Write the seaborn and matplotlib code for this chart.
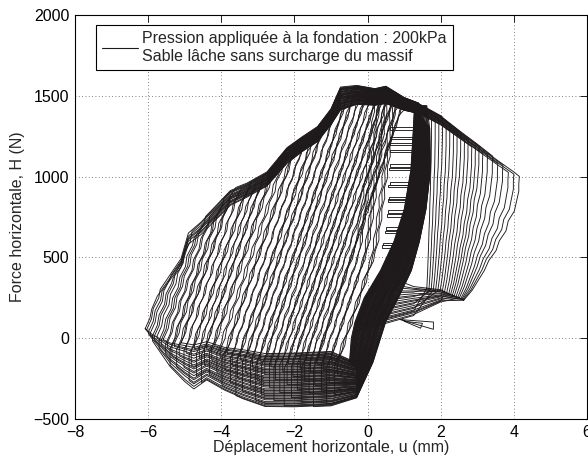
import numpy as np
import pandas as pd
import matplotlib
matplotlib.use("Agg")
import matplotlib.pyplot as plt
from matplotlib.lines import Line2D
import seaborn as sns

# ---------------- values (u in mm, H in N) ----------------
# upper envelope of the loops: outer edge and inner edge of the dark bundle
env_u = [-6.12, -5.75, -5.1, -4.9, -4.55, -3.75, -3.3, -2.75, -2.2, -1.8, -1.37, -1.0,
         -0.74, -0.3, 0.2, 0.5, 1.0, 1.4, 2.0, 2.5, 3.0, 3.5, 4.0, 4.18]
env_top = [75, 280, 500, 660, 730, 920, 960, 1030, 1180, 1245, 1310, 1420,
           1555, 1565, 1545, 1560, 1490, 1455, 1380, 1290, 1205, 1115, 1035, 1000]
env_bot = [55, 240, 440, 580, 640, 820, 870, 940, 1080, 1150, 1215, 1320,
           1410, 1445, 1440, 1450, 1410, 1390, 1320, 1240, 1160, 1080, 1000, 975]

# lower band (right to left): upper and lower edge
low_u = [-0.3, -1.0, -2.0, -2.8, -3.4, -3.9, -4.4, -4.75, -5.0, -5.4, -5.9, -6.12]
low_top = [-150, -80, -90, -93, -70, -56, -20, -40, -30, -20, 30, 68]
low_bot = [-370, -420, -430, -428, -380, -330, -265, -322, -275, -180, -12, 68]

# dense unloading band near u = 0..1.7 (top to bottom): left and right edge
band_h = [1440, 1300, 1040, 800, 600, 420, 250, 100, 0, -150]
band_l = [1.28, 1.25, 1.18, 1.0, 0.72, 0.35, -0.1, -0.35, -0.45, -0.5]
band_r = [1.62, 1.7, 1.72, 1.6, 1.42, 1.2, 0.85, 0.5, 0.36, 0.15]

# start of each loading branch on the left part of the loops
left_u0 = [-6.08, -6.04, -5.99, -5.94, -5.88, -5.83, -5.76, -5.7, -5.64, -5.58, -5.52,
           -5.47, -5.4, -5.35, -5.28, -5.22, -5.15, -5.1, -5.02, -4.96, -4.88, -4.82,
           -4.74, -4.68, -4.6, -4.54, -4.46, -4.4, -4.32, -4.26, -4.18, -4.12, -4.03,
           -3.98, -3.9, -3.84, -3.75, -3.7, -3.6, -3.56, -3.47, -3.42, -3.33, -3.28,
           -3.2, -3.15, -3.06, -3.02, -2.94, -2.9, -2.81, -2.77, -2.68, -2.64, -2.56,
           -2.52, -2.44, -2.4, -2.32, -2.28, -2.2, -2.16, -2.08, -2.04, -1.96, -1.92,
           -1.84, -1.8, -1.72, -1.68, -1.6, -1.56, -1.48, -1.44, -1.38]
# last branches, close to the dense band (steeper in their upper part)
late_u0 = [-1.32, -1.26, -1.2, -1.12, -1.05, -0.98, -0.9, -0.82, -0.75]

# wavy shape of a loading branch (offsets from its start)
branch_dh = [0, 65, 130, 195, 260, 325, 390, 455, 520, 585, 650, 715, 780, 845, 910, 975,
             1040, 1105, 1170, 1235, 1300, 1365, 1430, 1495, 1560, 1625, 1690, 1755,
             1820, 1885, 1950]
branch_du = [0, .13, .18, .33, .37, .52, .57, .72, .76, .91, .96, 1.11, 1.15, 1.30, 1.35,
             1.50, 1.54, 1.69, 1.74, 1.89, 1.93, 2.08, 2.13, 2.27, 2.32, 2.47, 2.52,
             2.66, 2.71, 2.86, 2.90]
late_du = [0, .13, .18, .33, .37, .52, .57, .72, .76, .91, .96, 1.06, 1.06, 1.14, 1.14,
           1.22, 1.21, 1.30, 1.29, 1.37, 1.36, 1.44, 1.43, 1.51, 1.50, 1.58, 1.57,
           1.65, 1.64, 1.72, 1.71]

# loading branches on the right part of the loops
right_u0 = [1.62, 1.68, 1.74, 1.8, 1.86, 1.92, 1.98, 2.04, 2.1, 2.16, 2.22, 2.27,
            2.32, 2.37, 2.42, 2.47, 2.51, 2.55, 2.58, 2.6, 2.62, 2.63]
right_h0 = [310, 307, 304, 300, 297, 293, 290, 286, 282, 278, 274, 270,
            266, 262, 258, 254, 250, 246, 243, 240, 237, 235]
right_u1 = [1.75, 1.85, 1.95, 2.05, 2.15, 2.25, 2.35, 2.45, 2.55, 2.65, 2.75, 2.85,
            2.95, 3.05, 3.15, 3.28, 3.42, 3.56, 3.7, 3.85, 4.0, 4.15]
right_fh = [0, .08, .16, .24, .32, .40, .48, .56, .64, .72, .80, .88, .94, 1.0]
right_fu = [0, .15, .26, .37, .45, .58, .64, .76, .80, .91, .95, .99, .99, 1.0]
fan_u = [1.26, 2.0]
fan_lo = [130, 217]
fan_hi = [320, 300]
fan_exit = [20, 340]

# horizontal "rungs" left of the dense band
rung_h = [1290, 1230, 1195, 1150, 1060, 1040, 950, 935, 855, 843, 775, 750, 670, 650, 575, 560]
rung_u0 = [0.62, 0.6, 0.62, 0.6, 0.6, 0.58, 0.6, 0.57, 0.58, 0.55, 0.55, 0.52, 0.5, 0.48, 0.42, 0.4]
rung_u1 = [1.26, 1.25, 1.24, 1.23, 1.2, 1.19, 1.14, 1.13, 1.05, 1.04, 0.98, 0.96, 0.88, 0.86, 0.78, 0.76]

# two small wedges at the bottom right of the band
wedge_u = [[0.9, 1.8, 1.8, 0.9], [1.0, 1.45, 1.5, 1.0]]
wedge_h = [[115, 55, 100, 115], [105, 62, 92, 105]]

line_color = "#1e1a1b"


def env(u, t):
    return np.interp(u, env_u, env_top) * (1 - t) + np.interp(u, env_u, env_bot) * t


def low(u, t):
    xs = low_u[::-1]
    return (np.interp(u, xs, low_top[::-1]) * (1 - t) +
            np.interp(u, xs, low_bot[::-1]) * t)


def band_u(t):
    return [a * (1 - t) + b * t for a, b in zip(band_l, band_r)]


def band_left(h):
    return np.interp(h, band_h[::-1], band_l[::-1])


rows = []


def add(cid, us, hs):
    for i, (u, h) in enumerate(zip(us, hs)):
        rows.append((cid, i, u, h))


def left_loop(u0, t, shape_du):
    h0 = low(u0, 0.3 * t)
    us, hs = [], []
    for dh, du in zip(branch_dh, shape_du):
        u, h = u0 + du, h0 + dh
        if h >= env(u, t):
            us.append(u)
            hs.append(env(u, t))
            break
        if h > 300 and u >= band_left(h):
            break
        us.append(u)
        hs.append(h)
    u_end, h_end = us[-1], hs[-1]
    for eu in env_u:
        if u_end < eu <= 1.4 and h_end >= env(u_end, t) - 1:
            us.append(eu)
            hs.append(env(eu, t))
    for bh, bu in zip(band_h, band_u(t)):
        if bh <= hs[-1]:
            us.append(bu)
            hs.append(bh)
    for lu in low_u:
        if lu > u0:
            us.append(lu)
            hs.append(low(lu, t))
    us += [u0, u0]
    hs += [low(u0, t), h0]
    return us, hs


cid = 0
for k, u0 in enumerate(left_u0):
    us, hs = left_loop(u0, (0.5 + k * 0.618) % 1, branch_du)
    add(cid, us, hs)
    cid += 1

for k, u0 in enumerate(late_u0):
    us, hs = left_loop(u0, (0.1 + k * 0.618) % 1, late_du)
    add(cid, us, hs)
    cid += 1

for k, (u0, h0, u1) in enumerate(zip(right_u0, right_h0, right_u1)):
    t = (0.2 + k * 0.618) % 1
    top = env(u1, t)
    us = [u0 + f * (u1 - u0) for f in right_fu]
    hs = [h0 + f * (top - h0) for f in right_fh]
    for eu in env_u[::-1]:
        if 1.4 <= eu < u1:
            us.append(eu)
            hs.append(env(eu, t))
    h_exit = fan_exit[0] * (1 - t) + fan_exit[1] * t
    bus = band_u(t)
    for bh, bu in zip(band_h, bus):
        if bh >= h_exit:
            us.append(bu)
            hs.append(bh)
    us.append(np.interp(h_exit, band_h[::-1], bus[::-1]))
    hs.append(h_exit)
    for fu, lo, hi in zip(fan_u, fan_lo, fan_hi):
        if fu < u0:
            us.append(fu)
            hs.append(lo * (1 - t) + hi * t)
    us.append(u0)
    hs.append(h0)
    add(cid, us, hs)
    cid += 1

for h, a, b in zip(rung_h, rung_u0, rung_u1):
    add(cid, [b, a, a, b], [h, h, h + 16, h + 16])
    cid += 1

for wu, wh in zip(wedge_u, wedge_h):
    add(cid, wu, wh)
    cid += 1

df = pd.DataFrame(rows, columns=["cycle", "order", "u", "H"])

# ---------------- plot ----------------
sns.set_style("white")
plt.rcParams["font.family"] = ["Liberation Sans", "DejaVu Sans"]

fig = plt.figure(figsize=(5.88, 4.61), dpi=100)
ax = fig.add_axes([75 / 588, 1 - 419 / 461, 512 / 588, 404 / 461])

sns.lineplot(data=df, x="u", y="H", units="cycle", estimator=None, sort=False,
             color=line_color, linewidth=0.65, ax=ax, legend=False)

ax.set_xlim(-8, 6)
ax.set_ylim(-500, 2000)
ax.set_xticks(range(-8, 7, 2))
ax.set_yticks(range(-500, 2001, 500))
ax.grid(True, color="#555555", linestyle=(0, (1, 3)), linewidth=0.6)
ax.set_axisbelow(True)
for s in ax.spines.values():
    s.set_color("black")
    s.set_linewidth(0.8)
ax.tick_params(direction="in", top=True, right=True, length=5, width=0.6,
               labelsize=11.5, colors="black", pad=4)
ax.set_xlabel("Déplacement horizontale, u (mm)", fontsize=11.5, labelpad=0)
ax.set_ylabel("Force horizontale, H (N)", fontsize=11.5, labelpad=6)

handle = Line2D([0], [0], color=line_color, linewidth=0.8)
leg = ax.legend([handle],
                ["Pression appliquée à la fondation : 200kPa\nSable lâche sans surcharge du massif"],
                loc="upper left", bbox_to_anchor=(0.041, 0.975), borderaxespad=0,
                fancybox=False, framealpha=1, edgecolor="black", fontsize=11.5,
                handlelength=2.2, handletextpad=0.3, borderpad=0.4)
leg.get_frame().set_linewidth(0.8)
for txt in leg.get_texts():
    txt.set_linespacing(1.2)

fig.savefig("out.png", dpi=100)
